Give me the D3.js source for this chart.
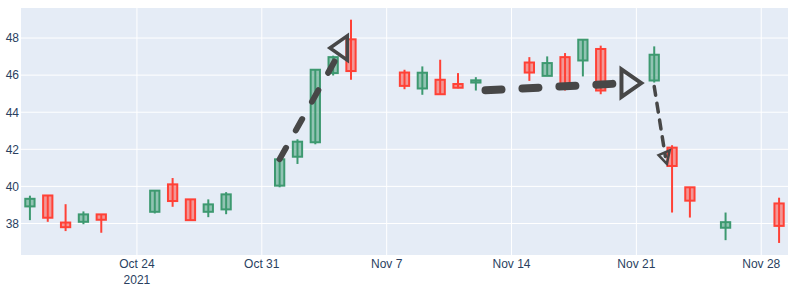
<!DOCTYPE html>
<html>
<head>
<meta charset="utf-8">
<script src="https://cdn.jsdelivr.net/npm/d3@7"></script>
<style>
  body { margin: 0; background: #fff; }
  #chart text { font-family: "Liberation Sans", Arial, sans-serif; font-size: 12px; fill: #2a3f5f; }
</style>
</head>
<body>
<svg id="chart" width="793" height="291"></svg>
<script>
// candle data
const dates = [
  "2021-10-18", "2021-10-19", "2021-10-20", "2021-10-21", "2021-10-22",
  "2021-10-25", "2021-10-26", "2021-10-27", "2021-10-28", "2021-10-29",
  "2021-11-01", "2021-11-02", "2021-11-03", "2021-11-04", "2021-11-05",
  "2021-11-08", "2021-11-09", "2021-11-10", "2021-11-11", "2021-11-12",
  "2021-11-15", "2021-11-16", "2021-11-17", "2021-11-18", "2021-11-19",
  "2021-11-22", "2021-11-23", "2021-11-24", "2021-11-26", "2021-11-29"
];
const open = [
  38.92, 39.51, 38.05, 38.09, 38.49,
  38.63, 40.11, 39.30, 38.63, 38.76,
  40.04, 41.60, 42.38, 46.11, 47.93,
  46.14, 45.28, 45.75, 45.52, 45.60,
  46.68, 45.96, 46.97, 46.79, 47.41,
  45.71, 42.09, 39.95, 37.77, 39.08
];
const high = [
  39.50, 39.52, 39.04, 38.65, 38.50,
  39.78, 40.45, 39.31, 39.30, 39.69,
  41.50, 42.54, 46.32, 47.05, 48.99,
  46.29, 46.47, 46.83, 46.11, 45.89,
  46.97, 47.01, 47.19, 47.92, 47.59,
  47.55, 42.22, 39.97, 38.59, 39.39
];
const low = [
  38.18, 38.09, 37.59, 37.96, 37.50,
  38.54, 38.90, 38.14, 38.34, 38.50,
  39.95, 41.21, 42.27, 45.98, 45.75,
  45.24, 44.94, 44.96, 45.29, 45.17,
  45.69, 45.95, 45.17, 45.93, 44.97,
  45.60, 38.59, 38.32, 37.10, 36.95
];
const close = [
  39.33, 38.31, 37.80, 38.49, 38.20,
  39.77, 39.21, 38.18, 39.03, 39.57,
  41.46, 42.41, 46.29, 46.97, 46.22,
  45.42, 46.13, 44.97, 45.32, 45.72,
  46.14, 46.65, 45.32, 47.91, 45.17,
  47.10, 41.10, 39.23, 38.07, 37.87
];

// dashed trend lines, start and end points
const trendX = [
  ["2021-11-01T00:00", "2021-11-04T12:00"],
  ["2021-11-12T13:00", "2021-11-20T12:00"],
  ["2021-11-22T00:00", "2021-11-22T15:00"]
];
const trendY = [
  [41.47, 47.46],
  [45.18, 45.57],
  [45.39, 41.61]
];
const trendStyle = [
  { width: 6, dash: "13,20", symbol: "left", size: 21, stroke: 3.5, angle: 0 },
  { width: 8, dash: "16,21", symbol: "right", size: 24, stroke: 4, angle: 0 },
  { width: 3.5, dash: "9,8", symbol: "left", size: 12, stroke: 2.5, angle: 12 }
];

const yTicks = [38, 40, 42, 44, 46, 48];

const svg = d3.select("#chart");
const margin = { top: 8, right: 5, bottom: 36, left: 21 };
const W = +svg.attr("width"), H = +svg.attr("height");

const parse = d3.utcParse("%Y-%m-%d");
const parseT = d3.utcParse("%Y-%m-%dT%H:%M");
const rows = dates.map((d, i) => ({ date: parse(d), o: open[i], h: high[i], l: low[i], c: close[i] }));

const x = d3.scaleUtc()
  .domain([d3.utcHour.offset(parse("2021-10-18"), -12), d3.utcHour.offset(parse("2021-11-29"), 12)])
  .range([margin.left, W - margin.right]);
const y = d3.scaleLinear()
  .domain([36.3, 49.62])
  .range([H - margin.bottom, margin.top]);

// background
svg.append("rect")
  .attr("x", margin.left).attr("y", margin.top)
  .attr("width", W - margin.right - margin.left)
  .attr("height", H - margin.bottom - margin.top)
  .attr("fill", "#E5ECF6");

// gridlines
const xTicks = d3.utcSunday.range(parse("2021-10-20"), parse("2021-11-30"));
svg.append("g").selectAll("line").data(xTicks).join("line")
  .attr("x1", d => x(d)).attr("x2", d => x(d))
  .attr("y1", margin.top).attr("y2", H - margin.bottom)
  .attr("stroke", "#fff").attr("stroke-width", 1);
svg.append("g").selectAll("line").data(yTicks).join("line")
  .attr("x1", margin.left).attr("x2", W - margin.right)
  .attr("y1", d => y(d)).attr("y2", d => y(d))
  .attr("stroke", "#fff").attr("stroke-width", 1);

// axes labels
const fmt = d3.utcFormat("%b %-d");
svg.append("g").selectAll("text").data(xTicks).join("text")
  .attr("x", d => x(d)).attr("y", 268)
  .attr("text-anchor", "middle")
  .text(d => fmt(d));
svg.append("text").attr("x", x(xTicks[0])).attr("y", 284)
  .attr("text-anchor", "middle").text("2021");

svg.append("g").selectAll("text").data(yTicks).join("text")
  .attr("x", margin.left - 2).attr("y", d => y(d))
  .attr("dy", "0.36em")
  .attr("text-anchor", "end")
  .text(d => d);

// candles
const boxW = (x(parse("2021-10-19")) - x(parse("2021-10-18"))) * 0.52;
const up = { line: "#3D9970", fill: "rgba(61,153,112,0.5)" };
const down = { line: "#FF4136", fill: "rgba(255,65,54,0.5)" };

const candles = svg.append("g").selectAll("g").data(rows).join("g");
candles.append("line")
  .attr("x1", d => x(d.date)).attr("x2", d => x(d.date))
  .attr("y1", d => y(d.h)).attr("y2", d => y(d.l))
  .attr("stroke", d => (d.c >= d.o ? up : down).line)
  .attr("stroke-width", 2);
candles.append("rect")
  .attr("x", d => x(d.date) - boxW / 2)
  .attr("width", boxW)
  .attr("y", d => y(Math.max(d.o, d.c)))
  .attr("height", d => Math.max(1, Math.abs(y(d.o) - y(d.c))))
  .attr("fill", d => (d.c >= d.o ? up : down).fill)
  .attr("stroke", d => (d.c >= d.o ? up : down).line)
  .attr("stroke-width", 2);

// dashed lines with open triangle markers
const lineColor = "#474747";
function triPath(sym, size) {
  const r = size / 2, rt = r * 2 / Math.sqrt(3), r2 = r / 2;
  if (sym === "left") return `M${-rt},0L${r2},${-rt}V${rt}Z`;
  return `M${rt},0L${-r2},${-rt}V${rt}Z`;
}
trendX.forEach((xs, i) => {
  const st = trendStyle[i];
  const pts = xs.map((d, j) => [x(parseT(d)), y(trendY[i][j])]);
  svg.append("path")
    .attr("d", d3.line()(pts))
    .attr("fill", "none")
    .attr("stroke", lineColor)
    .attr("stroke-width", st.width)
    .attr("stroke-linecap", "round")
    .attr("stroke-dasharray", st.dash);
  const end = pts[pts.length - 1];
  svg.append("path")
    .attr("d", triPath(st.symbol, st.size))
    .attr("transform", `translate(${end[0]},${end[1]}) rotate(${st.angle})`)
    .attr("fill", "none")
    .attr("stroke", lineColor)
    .attr("stroke-width", st.stroke);
});
</script>
</body>
</html>
